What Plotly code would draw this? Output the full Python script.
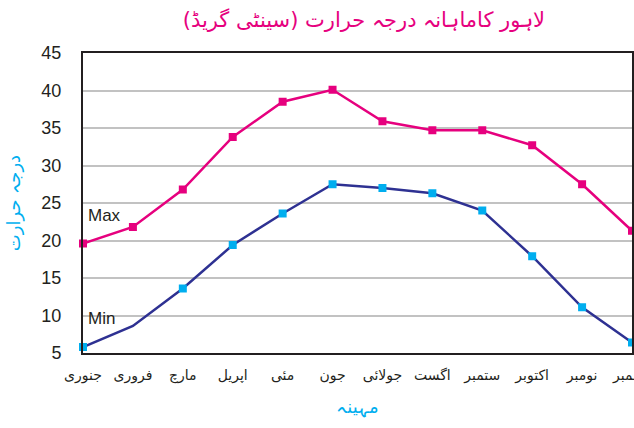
import plotly.graph_objects as go

months = ["جنوری", "فروری", "مارچ", "اپریل", "مئی", "جون",
          "جولائی", "اگست", "ستمبر", "اکتوبر", "نومبر", "دسمبر"]
max_temp = [19.6, 21.8, 26.8, 33.8, 38.5, 40.1, 35.9, 34.7, 34.7, 32.7, 27.5, 21.3]
min_temp = [5.8, 8.6, 13.6, 19.4, 23.6, 27.5, 27.0, 26.3, 24.0, 17.9, 11.1, 6.4]
min_marker_shown = [1, 0, 1, 1, 1, 1, 1, 1, 1, 1, 1, 1]
y_ticks = [5, 10, 15, 20, 25, 30, 35, 40, 45]

title_text = "لاہور کاماہانہ درجہ حرارت (سینٹی گریڈ)"
y_title = "درجہ حرارت"
x_title = "مہینہ"

MAGENTA = "#e6007e"
NAVY = "#2e3192"
CYAN = "#00aeef"
DARK = "#231f20"

x = list(range(len(months)))

fig = go.Figure()
fig.add_trace(go.Scatter(
    x=x, y=max_temp, mode="lines+markers", name="Max",
    line=dict(color=MAGENTA, width=2.5),
    marker=dict(symbol="square", size=8, color=MAGENTA),
    cliponaxis=False, showlegend=False, hoverinfo="skip"))
fig.add_trace(go.Scatter(
    x=x, y=min_temp, mode="lines+markers", name="Min",
    line=dict(color=NAVY, width=2.5),
    marker=dict(symbol="square", size=8, color=CYAN,
                opacity=min_marker_shown),
    cliponaxis=False, showlegend=False, hoverinfo="skip"))

fig.add_annotation(x=0, y=23.4, xref="x", yref="y", text="Max",
                   showarrow=False, xanchor="left", xshift=3,
                   font=dict(family="Liberation Sans, Arial", size=17, color=DARK))
fig.add_annotation(x=0, y=9.6, xref="x", yref="y", text="Min",
                   showarrow=False, xanchor="left", xshift=3,
                   font=dict(family="Liberation Sans, Arial", size=17, color=DARK))

fig.update_layout(
    width=634, height=428,
    margin=dict(l=83, r=2, t=53, b=75, autoexpand=False),
    paper_bgcolor="white", plot_bgcolor="white",
    hovermode=False,
    title=dict(text=title_text, x=0.574, xanchor="center", y=0.953, yanchor="middle",
               font=dict(family="DejaVu Sans", size=21, color=MAGENTA)),
)
fig.update_xaxes(
    range=[0, 11], tickmode="array", tickvals=x, ticktext=months,
    showgrid=False, zeroline=False, automargin=False,
    ticklabeloverflow="allow",
    showline=True, mirror=True, linecolor=DARK, linewidth=2,
    tickfont=dict(family="DejaVu Sans", size=14, color=DARK),
    ticklabelstandoff=8,
    title=dict(text=x_title, font=dict(family="DejaVu Sans", size=18, color=CYAN), standoff=18),
)
fig.update_yaxes(
    range=[5, 45], tickmode="array", tickvals=y_ticks,
    showgrid=True, gridcolor="#c2c2c2", gridwidth=1.5, zeroline=False, automargin=False,
    showline=True, mirror=True, linecolor=DARK, linewidth=2,
    tickfont=dict(family="Liberation Sans, Arial", size=18, color=DARK),
    ticklabelstandoff=16,
    title=dict(text=y_title, font=dict(family="DejaVu Sans", size=18, color=CYAN), standoff=16),
)

fig.write_html("out.html", config={"displayModeBar": False},
               post_script="document.body.style.margin='0';document.body.style.overflow='hidden';")
